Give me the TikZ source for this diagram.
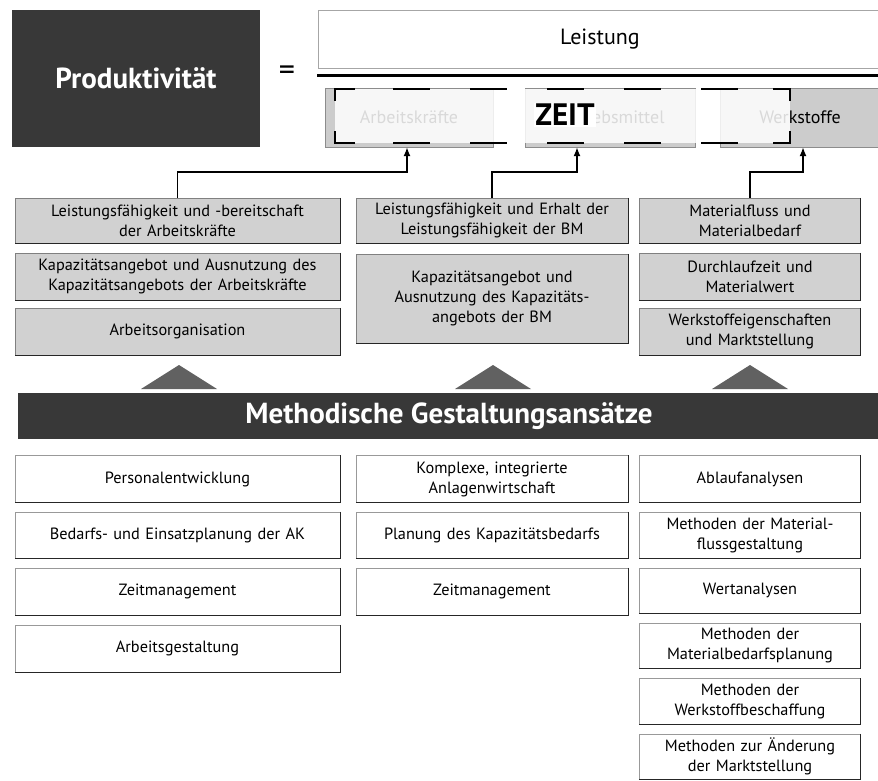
\documentclass[tikz,border=0pt]{standalone}
\usepackage{fontspec}
\setmainfont{PT Sans}
\usetikzlibrary{arrows.meta}

\tikzset{
  boxfont/.style={font=\fontsize{16.3}{20}\selectfont},
  infobox/.style={boxfont, draw=black!50, fill=black!18, align=center, inner sep=0pt},
  methbox/.style={boxfont, draw=black!40, fill=white, align=center, inner sep=0pt},
  col1/.style={minimum width=325pt, text width=319pt},
  col2/.style={minimum width=272pt, text width=270pt},
  col3/.style={minimum width=221pt, text width=217pt},
  edgeshade/.style={draw=black!85, line width=1.1pt},
  darkbox/.style={fill=black!78, text=white, inner sep=0pt, font=\bfseries\fontsize{29}{32}\selectfont},
  denbox/.style={draw=black!45, fill=black!20, inner sep=0pt, minimum height=59pt, font=\fontsize{18}{21}\selectfont},
  zeitline/.style={line width=2.4pt},
  feed/.style={line width=1.4pt, -{Latex[length=9pt,width=7pt]}},
  pyramid/.style={fill=black!62},
}

\begin{document}
\begin{tikzpicture}[x=1pt, y=-1pt]
\useasboundingbox[fill=white] (0,0) rectangle (878,780);

% formula
\node[darkbox, minimum width=248pt, minimum height=137pt] (prod) at (136,78.5) {Produktivität};
\node[font=\fontsize{32}{32}\selectfont] (eq) at (287,73) {=};
\node[draw=black!35, fill=white, minimum width=564pt, minimum height=58pt, font=\fontsize{22}{25}\selectfont] (leist) at (600,39) {Leistung};
\draw[line width=3pt] (317,75) -- (878,75);

% denominator
\node[denbox, minimum width=168pt] (ak) at (409,117.5) {Arbeitskräfte};
\node[denbox, minimum width=170pt] (bm) at (610,117.5) {Betriebsmittel};
\node[denbox, minimum width=160pt] (ws) at (800,117.5) {Werkstoffe};
\fill[white, fill opacity=0.85] (335,89) rectangle (790,143);
\draw[zeitline] (355,89) -| (335,101);
\draw[zeitline] (335,131) |- (355,143);
\draw[zeitline] (773,143) -| (790,131);
\draw[zeitline] (790,101) |- (773,89);
\draw[zeitline, dash pattern=on 37pt off 40pt, dash phase=39pt] (355,89) -- (773,89);
\draw[zeitline, dash pattern=on 37pt off 40pt, dash phase=39pt] (355,143) -- (773,143);
\node[fill=white, inner sep=1pt, font=\bfseries\fontsize{31}{31}\selectfont] (zeit) at (565,115) {ZEIT};

% influencing factors
\node[infobox, col1, minimum height=45pt] (lf1) at (177.5,220.5) {Leistungsfähigkeit und -bereitschaft\\der Arbeitskräfte};
\node[infobox, col1, minimum height=47pt] (ka1) at (177.5,276.5) {Kapazitätsangebot und Ausnutzung des\\Kapazitätsangebots der Arbeitskräfte};
\node[infobox, col1, minimum height=47pt] (ao1) at (177.5,331.5) {Arbeitsorganisation};
\node[infobox, col2, minimum height=45pt] (lf2) at (492,220.5) {Leistungsfähigkeit und Erhalt der\\Leistungsfähigkeit der BM};
\node[infobox, col2, minimum height=89pt] (ka2) at (492,298.5) {Kapazitätsangebot und\\Ausnutzung des Kapazitäts-\\angebots der BM};
\node[infobox, col3, minimum height=45pt] (mf3) at (750,220.5) {Materialfluss und\\Materialbedarf};
\node[infobox, col3, minimum height=47pt] (dz3) at (750,276.5) {Durchlaufzeit und\\Materialwert};
\node[infobox, col3, minimum height=47pt] (we3) at (750,331.5) {Werkstoffeigenschaften\\und Marktstellung};

\draw[feed] (lf1.north) -- ++(0,-26) -| ([xshift=-2pt]ak.south);
\draw[feed] (lf2.north) -- ++(0,-26) -| ([xshift=-33pt]bm.south);
\draw[feed] (mf3.north) -- ++(0,-26) -| ([xshift=3pt]ws.south);

\foreach \cx in {179,493,750}{
  \fill[pyramid] (\cx-38,389) -- (\cx,365) -- (\cx+38,389) -- cycle;
}

\node[darkbox, minimum width=862pt, minimum height=46pt] (meth) at (449,416) {Methodische Gestaltungsansätze};

% approaches
\node[methbox, col1, minimum height=47pt] (pe1) at (177.5,479) {Personalentwicklung};
\node[methbox, col1, minimum height=46pt] (be1) at (177.5,535) {Bedarfs- und Einsatzplanung der AK};
\node[methbox, col1, minimum height=47pt] (zm1) at (177.5,591.5) {Zeitmanagement};
\node[methbox, col1, minimum height=47pt] (ag1) at (177.5,648.5) {Arbeitsgestaltung};
\node[methbox, col2, minimum height=47pt] (ki2) at (492,479) {Komplexe, integrierte\\Anlagenwirtschaft};
\node[methbox, col2, minimum height=46pt] (pk2) at (492,535) {Planung des Kapazitätsbedarfs};
\node[methbox, col2, minimum height=47pt] (zm2) at (492,591.5) {Zeitmanagement};
\node[methbox, col3, minimum height=47pt] (al3) at (750,479) {Ablaufanalysen};
\node[methbox, col3, minimum height=46pt] (mg3) at (750,535) {Methoden der Material-\\flussgestaltung};
\node[methbox, col3, minimum height=45pt] (wa3) at (750,590.5) {Wertanalysen};
\node[methbox, col3, minimum height=45pt] (mb3) at (750,645.5) {Methoden der\\Materialbedarfsplanung};
\node[methbox, col3, minimum height=46pt] (wb3) at (750,701.5) {Methoden der\\Werkstoffbeschaffung};
\node[methbox, col3, minimum height=45pt] (mm3) at (750,756.5) {Methoden zur Änderung\\der Marktstellung};

\foreach \n in {lf1,ka1,ao1,lf2,ka2,mf3,dz3,we3,pe1,be1,zm1,ag1,ki2,pk2,zm2,al3,mg3,wa3,mb3,wb3,mm3}{
  \draw[edgeshade] (\n.north east) |- (\n.south west);
}
\end{tikzpicture}
\end{document}
